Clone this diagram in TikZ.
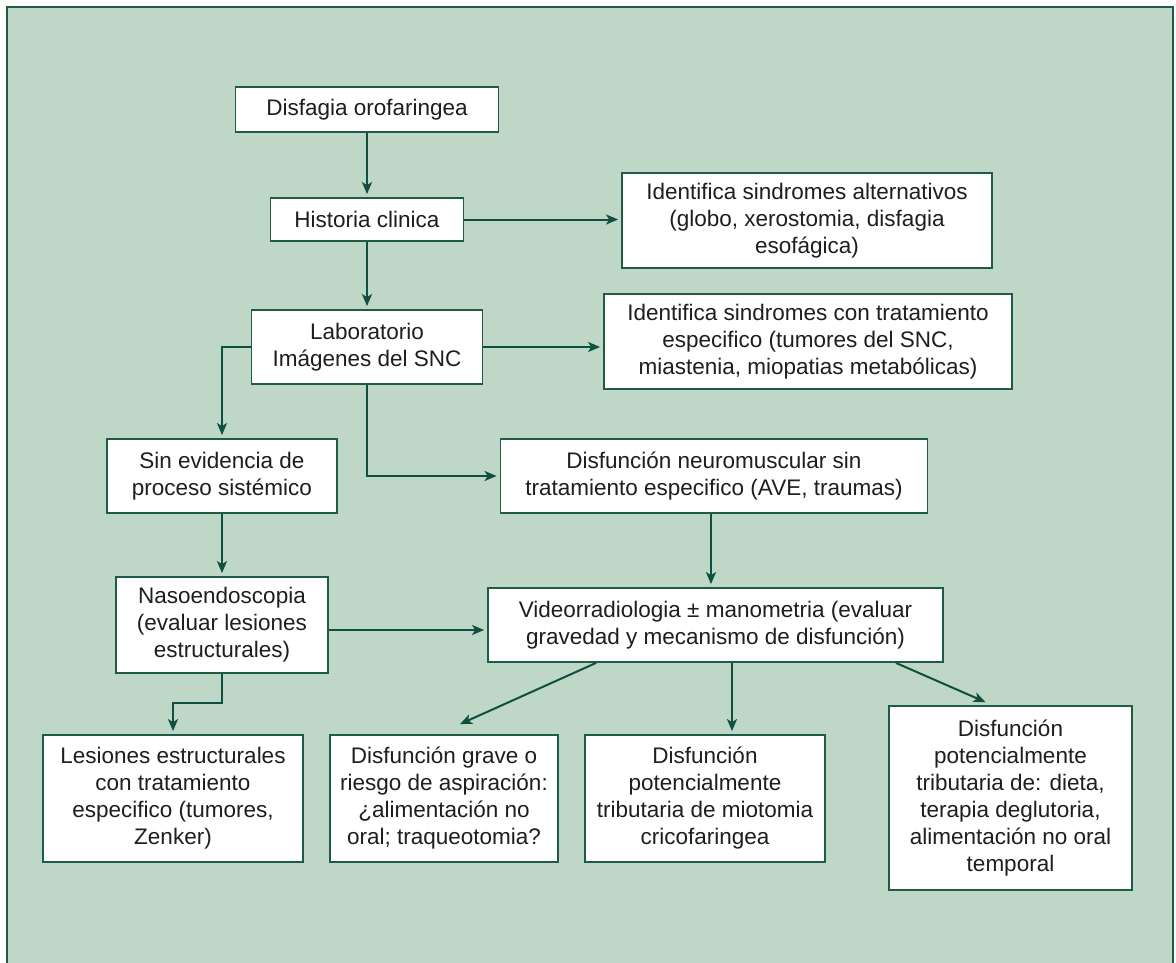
\documentclass[tikz,border=0pt]{standalone}
\usepackage{fontspec}
\setmainfont{Liberation Sans}
\usetikzlibrary{arrows.meta,calc}
\definecolor{bgG}{HTML}{BFD7C7}
\definecolor{lnG}{HTML}{1F5C48}
\definecolor{arG}{HTML}{0F5040}
\definecolor{txG}{HTML}{1E1E1E}
\begin{document}
\begin{tikzpicture}[x=1pt,y=-1pt,
  box/.style={draw=lnG,line width=1.8pt,fill=white,rectangle,inner sep=0pt,align=center,
    text=txG,font=\fontsize{22.5}{27}\selectfont},
  arr/.style={draw=arG,line width=2pt,-{Stealth[length=12pt,width=10pt,inset=3pt]},shorten >=3pt}]
\useasboundingbox (0,0) rectangle (1176,963);
\fill[white] (0,0) rectangle (1176,963);
\draw[lnG,line width=2pt,fill=bgG] (7,7) rectangle (1173,990);
% nodes
\node[box,minimum width=263pt,minimum height=45pt] (d1) at (367,109.5) {Disfagia orofaringea};
\node[box,minimum width=193pt,minimum height=43pt] (d2) at (367,219.5) {Historia clinica};
\node[box,minimum width=370pt,minimum height=95pt] (d3) at (807,220.5) {Identifica sindromes alternativos\\(globo, xerostomia, disfagia\\esofágica)};
\node[box,minimum width=231pt,minimum height=74pt] (d4) at (367,347) {Laboratorio\\Imágenes del SNC};
\node[box,minimum width=408pt,minimum height=95pt] (d5) at (808,341.5) {Identifica sindromes con tratamiento\\especifico (tumores del SNC,\\miastenia, miopatias metabólicas)};
\node[box,minimum width=230pt,minimum height=74pt] (d6) at (222,476) {Sin evidencia de\\proceso sistémico};
\node[box,minimum width=427pt,minimum height=74pt] (d7) at (714,476) {Disfunción neuromuscular sin\\tratamiento especifico (AVE, traumas)};
\node[box,minimum width=212pt,minimum height=96pt] (d8) at (222,625) {Nasoendoscopia\\(evaluar lesiones\\estructurales)};
\node[box,minimum width=455pt,minimum height=74pt] (d9) at (715.5,625) {Videorradiologia ± manometria (evaluar\\gravedad y mecanismo de disfunción)};
\node[box,minimum width=260pt,minimum height=127pt] (d10) at (173,798.5) {Lesiones estructurales\\con tratamiento\\especifico (tumores,\\Zenker)};
\node[box,minimum width=228pt,minimum height=127pt] (d11) at (444,798.5) {Disfunción grave o\\riesgo de aspiración:\\¿alimentación no\\oral; traqueotomia?};
\node[box,minimum width=240pt,minimum height=127pt] (d12) at (705,798.5) {Disfunción\\potencialmente\\tributaria de miotomia\\cricofaringea};
\node[box,minimum width=243pt,minimum height=184pt] (d13) at (1010.5,798) {Disfunción\\potencialmente\\tributaria de: dieta,\\terapia deglutoria,\\alimentación no oral\\temporal};
% connectors
\draw[arr] (d1) -- (d2);
\draw[arr] (d2.east) -- (d2.east -| d3.west);
\draw[arr] (d2) -- (d4);
\draw[arr] (d4.east) -- (d4.east -| d5.west);
\draw[arr] (d4.west) -| (d6.north);
\draw[arr] (d4.south) |- (d7.west);
\coordinate (s9) at ($(d7.south)+(-3,0)$);
\draw[arr] (s9) -- (s9 |- d9.north);
\draw[arr] (d6.south) -- (d8.north);
\coordinate (e8) at ($(d8.east)+(0,5)$);
\draw[arr] (e8) -- (e8 -| d9.west);
\draw[arr] (d8.south) -- ++(0,29) -| (d10.north);
\coordinate (s11) at ($(d9.south west)+(109,0)$);
\coordinate (t11) at ($(d11.north)+(16,-10)$);
\draw[arr,shorten >=0pt] (s11) -- (t11);
\coordinate (s12) at ($(d9.south)+(16.5,0)$);
\draw[arr] (s12) -- (s12 |- d12.north);
\coordinate (s13) at ($(d9.south east)+(-48,0)$);
\coordinate (t13) at ($(d13.north)+(-25,-3)$);
\draw[arr,shorten >=0pt] (s13) -- (t13);
\end{tikzpicture}
\end{document}
